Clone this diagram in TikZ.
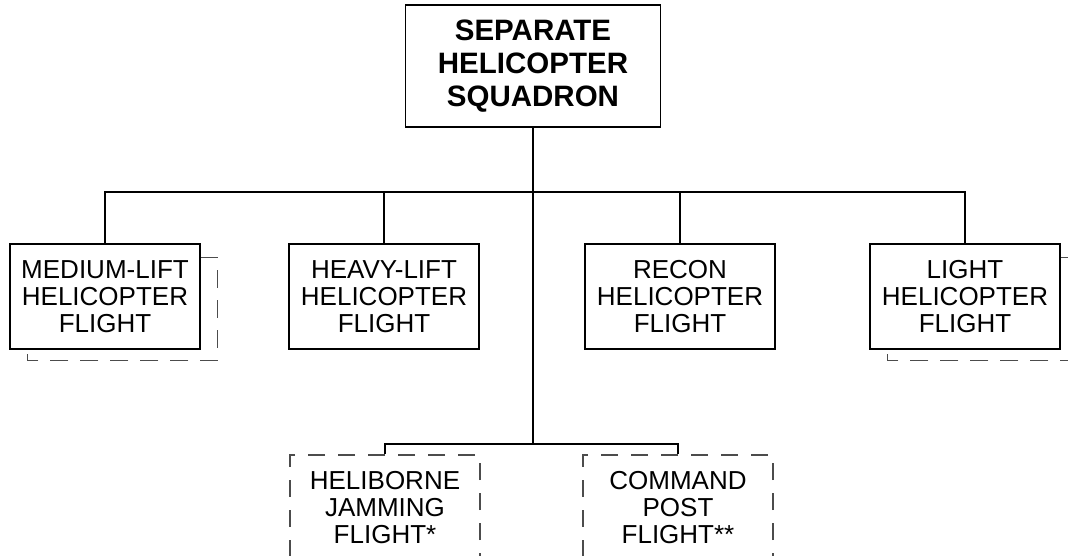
\documentclass[tikz,border=0pt]{standalone}
\usepackage{fontspec}
\setmainfont{Liberation Sans}
\usetikzlibrary{calc}
\definecolor{dashgray}{gray}{0.3}
\tikzset{
  unitbox/.style={draw=black, line width=1.5pt, fill=white, minimum width=190pt, minimum height=105pt, inner sep=0pt, align=center, font=\fontsize{26}{26.7}\selectfont},
  topbox/.style={draw=black, line width=1.5pt, fill=white, minimum width=255pt, minimum height=122pt, inner sep=0pt, align=center, font=\fontsize{29.5}{33.3}\selectfont\bfseries},
  dashbox/.style={unitbox, draw=dashgray, line width=1.1pt, dash pattern=on 17pt off 13pt},
  link/.style={draw=black, line width=1.8pt},
  shadowline/.style={draw=dashgray, line width=1.1pt, dash pattern=on 18pt off 12pt},
}
\begin{document}
\begin{tikzpicture}[x=1pt, y=-1pt]
\useasboundingbox (0,0) rectangle (1068,556);
\clip (0,0) rectangle (1068,556);
% shadows (behind)
\node[unitbox, draw=none, fill=none] (med) at (105,296.5) {};
\node[unitbox, draw=none, fill=none] (light) at (965,296.5) {};
\draw[shadowline] ($(med.north east)+(0,14)$) -- ++(17,0) |- ($(med.south west)+(18,11)$) -- ($(med.south west)+(18,0)$);
\draw[shadowline] ($(light.north east)+(0,14)$) -- ++(17,0) |- ($(light.south west)+(18,11)$) -- ($(light.south west)+(18,0)$);
% nodes
\node[topbox] (top) at (533,66) {SEPARATE\\HELICOPTER\\SQUADRON};
\node[unitbox] (med) at (105,296.5) {MEDIUM-LIFT\\HELICOPTER\\FLIGHT};
\node[unitbox] (heavy) at (384,296.5) {HEAVY-LIFT\\HELICOPTER\\FLIGHT};
\node[unitbox] (recon) at (680,296.5) {RECON\\HELICOPTER\\FLIGHT};
\node[unitbox] (light) at (965,296.5) {LIGHT\\HELICOPTER\\FLIGHT};
\node[dashbox] (heli) at (385,507.5) {HELIBORNE\\JAMMING\\FLIGHT*};
\node[dashbox] (cmd) at (678,507.5) {COMMAND\\POST\\FLIGHT**};
% connectors
\coordinate (bus) at (533,192);
\coordinate (lowbus) at (533,444);
\draw[link] (top.south) -- (top.south |- lowbus);
\draw[link] (med.north) -- (med.north |- bus) -| (light.north);
\draw[link] (heavy.north) -- (heavy.north |- bus);
\draw[link] (recon.north) -- (recon.north |- bus);
\draw[link] (heli.north) -- (heli.north |- lowbus) -| (cmd.north);
\end{tikzpicture}
\end{document}
